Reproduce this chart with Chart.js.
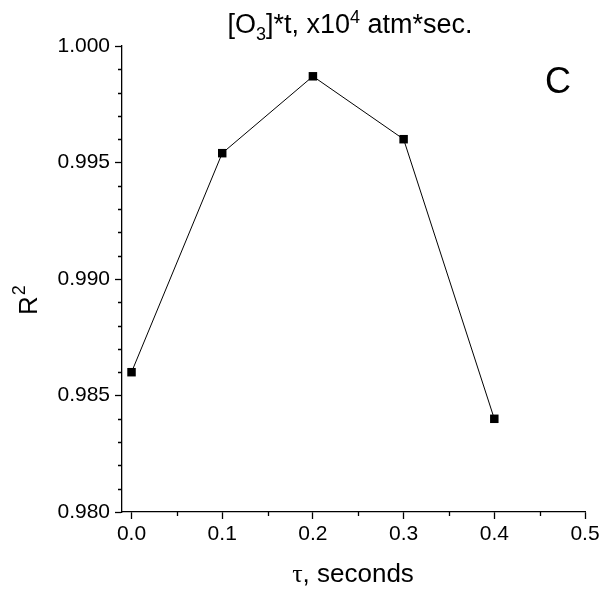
<!DOCTYPE html>
<html>
<head>
<meta charset="utf-8">
<script src="https://cdn.jsdelivr.net/npm/chart.js@4/dist/chart.umd.min.js"></script>
<style>
    html, body { margin: 0; padding: 0; background: #fff; }
    #wrap { width: 605px; height: 602px; }
</style>
</head>
<body>
<div id="wrap"><canvas id="chart"></canvas></div>
<script>
const tauValues = [0.0, 0.1, 0.2, 0.3, 0.4];
const r2Values = [0.9860, 0.9954, 0.9987, 0.9960, 0.9840];

const xTickValues = [0.0, 0.1, 0.2, 0.3, 0.4, 0.5];
const xMinorValues = [0.05, 0.15, 0.25, 0.35, 0.45];
const yTickValues = [0.980, 0.985, 0.990, 0.995, 1.000];
const yMinorValues = [
    0.981, 0.982, 0.983, 0.984,
    0.986, 0.987, 0.988, 0.989,
    0.991, 0.992, 0.993, 0.994,
    0.996, 0.997, 0.998, 0.999,
];

const FONT = "'Liberation Sans', Arial, sans-serif";

// minor ticks (outward) drawn through the scales
const minorTicks = {
    id: "minorTicks",
    afterDraw(chart) {
        const ctx = chart.ctx;
        const { x, y } = chart.scales;
        ctx.save();
        ctx.strokeStyle = "#000";
        ctx.lineWidth = 1.3;
        ctx.beginPath();
        xMinorValues.forEach((v) => {
            const px = Math.round(x.getPixelForValue(v)) + 0.5;
            ctx.moveTo(px, y.bottom);
            ctx.lineTo(px, y.bottom + 4);
        });
        yMinorValues.forEach((v) => {
            const py = Math.round(y.getPixelForValue(v)) + 0.5;
            ctx.moveTo(x.left, py);
            ctx.lineTo(x.left - 4, py);
        });
        ctx.stroke();
        ctx.restore();
    },
};

// texts with sub/superscripts
const labels = {
    id: "labels",
    afterDraw(chart) {
        const ctx = chart.ctx;
        ctx.save();
        ctx.fillStyle = "#000";
        ctx.textBaseline = "alphabetic";
        ctx.textAlign = "left";

        // title
        const parts = [
            { t: "[O", s: 27, dy: 0 },
            { t: "3", s: 18, dy: 7 },
            { t: "]*t, x10", s: 27, dy: 0 },
            { t: "4", s: 18, dy: -10 },
            { t: " atm*sec.", s: 27, dy: 0 },
        ];
        let total = 0;
        parts.forEach((p) => {
            ctx.font = `${p.s}px ${FONT}`;
            p.w = ctx.measureText(p.t).width;
            total += p.w;
        });
        let cx = 350 - total / 2;
        parts.forEach((p) => {
            ctx.font = `${p.s}px ${FONT}`;
            ctx.fillText(p.t, cx, 33 + p.dy);
            cx += p.w;
        });

        // panel letter
        ctx.font = `36px ${FONT}`;
        ctx.fillText("C", 545, 93);

        // x axis title
        ctx.font = `26px 'Liberation Serif', serif`;
        const tw = ctx.measureText("\u03c4").width;
        ctx.font = `26px ${FONT}`;
        const rw = ctx.measureText(", seconds").width;
        let sx = 353 - (tw + rw) / 2;
        ctx.font = `26px 'Liberation Serif', serif`;
        ctx.fillText("\u03c4", sx, 582);
        ctx.font = `26px ${FONT}`;
        ctx.fillText(", seconds", sx + tw, 582);

        // y axis title
        ctx.translate(37, 315);
        ctx.rotate(-Math.PI / 2);
        ctx.font = `26px ${FONT}`;
        ctx.fillText("R", 0, 0);
        const w = ctx.measureText("R").width;
        ctx.font = `18px ${FONT}`;
        ctx.fillText("2", w + 1, -12);
        ctx.restore();
    },
};

new Chart(document.getElementById("chart"), {
    type: "scatter",
    data: {
        datasets: [
            {
                data: tauValues.map((t, i) => ({ x: t, y: r2Values[i] })),
                showLine: true,
                borderColor: "#000",
                borderWidth: 1,
                backgroundColor: "#000",
                pointStyle: "rect",
                pointRadius: 6,
                pointHoverRadius: 6,
                pointBorderWidth: 0,
            },
        ],
    },
    options: {
        responsive: true,
        maintainAspectRatio: false,
        animation: false,
        events: [],
        layout: { padding: { top: 46, right: 20, left: 0, bottom: 0 } },
        plugins: {
            legend: { display: false },
            tooltip: { enabled: false },
        },
        scales: {
            x: {
                type: "linear",
                min: -0.0105,
                max: 0.5,
                afterBuildTicks: (s) => {
                    s.ticks = xTickValues.map((v) => ({ value: v }));
                },
                afterFit: (s) => {
                    s.height = 90;
                },
                border: { color: "#000", width: 1.3 },
                grid: {
                    drawOnChartArea: false,
                    tickLength: 7,
                    tickColor: "#000",
                    tickWidth: 1.3,
                },
                ticks: {
                    color: "#000",
                    font: { family: FONT, size: 21 },
                    padding: 3,
                    maxRotation: 0,
                    callback: (v) => v.toFixed(1),
                },
            },
            y: {
                type: "linear",
                min: 0.98,
                max: 1.0,
                afterBuildTicks: (s) => {
                    s.ticks = yTickValues.map((v) => ({ value: v }));
                },
                afterFit: (s) => {
                    s.width = 122;
                },
                border: { color: "#000", width: 1.3 },
                grid: {
                    drawOnChartArea: false,
                    tickLength: 7,
                    tickColor: "#000",
                    tickWidth: 1.3,
                },
                ticks: {
                    color: "#000",
                    font: { family: FONT, size: 21 },
                    padding: 5,
                    callback: (v) => v.toFixed(3),
                },
            },
        },
    },
    plugins: [minorTicks, labels],
});
</script>
</body>
</html>
